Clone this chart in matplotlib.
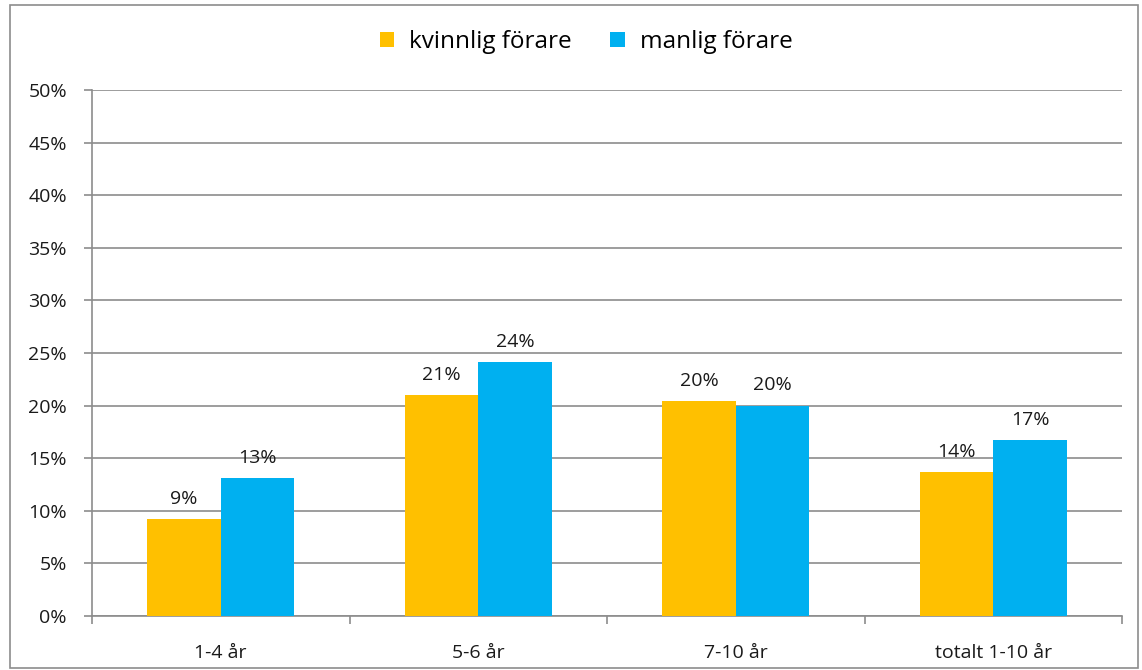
import numpy as np
import matplotlib.pyplot as plt
from matplotlib.patches import Rectangle

plt.rcParams['font.family'] = ['Open Sans', 'DejaVu Sans']

# andel per åldersgrupp
categories = ['1-4 år', '5-6 år', '7-10 år', 'totalt 1-10 år']
kvinnlig = [9.2, 21.0, 20.4, 13.7]
manlig = [13.1, 24.1, 20.0, 16.7]
series_names = ['kvinnlig förare', 'manlig förare']
colors = ['#FFC000', '#00B0F0']

fig = plt.figure(figsize=(11.42, 6.70), dpi=100)
ax = fig.add_axes([92/1142, 1 - 616/670, (1122 - 92)/1142, (616 - 90)/670])

# ram runt hela diagrammet
fig.patches.append(Rectangle((10/1142, 2/670), 1128/1142, 663/670,
                             transform=fig.transFigure, fill=False,
                             edgecolor='#8c8c8c', linewidth=1.2))

x = np.arange(len(categories))
w = 1 / 3.5
b1 = ax.bar(x - w/2, kvinnlig, w, color=colors[0], label=series_names[0], zorder=3)
b2 = ax.bar(x + w/2, manlig, w, color=colors[1], label=series_names[1], zorder=3)

for bars, vals in ((b1, kvinnlig), (b2, manlig)):
    for rect, v in zip(bars, vals):
        ax.annotate(f'{round(v):.0f}%', (rect.get_x() + rect.get_width()/2, v),
                    xytext=(0, 8), textcoords='offset points',
                    ha='center', va='bottom', fontsize=14, color='#1a1a1a')

ax.set_xlim(-0.5, len(categories) - 0.5)
ax.set_ylim(0, 50)
ax.set_yticks(np.arange(0, 51, 5))
ax.set_yticklabels([f'{t}%' for t in range(0, 51, 5)])
ax.yaxis.grid(True, color='#8c8c8c', linewidth=1.2, zorder=0)
ax.set_axisbelow(True)

# kategorietiketter utan streck, streck mellan grupperna
ax.set_xticks(x)
ax.set_xticklabels(categories)
ax.tick_params(axis='x', length=0, pad=20, labelsize=14, colors='#1a1a1a')
ax.set_xticks(np.arange(-0.5, len(categories)), minor=True)
ax.tick_params(axis='x', which='minor', length=6, width=1.2, color='#8c8c8c')
ax.tick_params(axis='y', length=6, width=1.2, color='#8c8c8c', labelsize=14,
               labelcolor='#1a1a1a', pad=12)

for side in ('top', 'right'):
    ax.spines[side].set_visible(False)
for side in ('left', 'bottom'):
    ax.spines[side].set_color('#8c8c8c')
    ax.spines[side].set_linewidth(1.2)

fig.legend(loc='center', bbox_to_anchor=(586/1142, 1 - 42/670), ncol=2,
           frameon=False, fontsize=17.5, handlelength=0.6, handleheight=0.6,
           handletextpad=0.6, columnspacing=1.6)

fig.savefig('out.png', dpi=100)
